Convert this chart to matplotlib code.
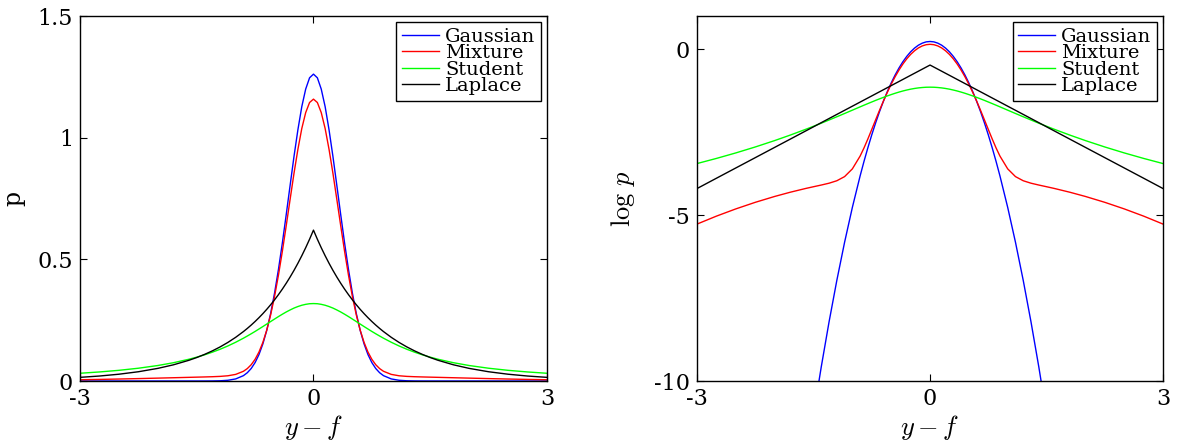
import numpy as np
import matplotlib
matplotlib.use("Agg")
import matplotlib.pyplot as plt

plt.rcParams['font.family'] = ['DejaVu Serif']
plt.rcParams['mathtext.fontset'] = 'cm'

# residual y - f
x = [-3.0, -2.75, -2.5, -2.25, -2.0, -1.8, -1.6, -1.5, -1.4, -1.3, -1.2, -1.1, -1.0,
     -0.9, -0.85, -0.8, -0.75, -0.7, -0.65, -0.6, -0.55, -0.5, -0.45, -0.4, -0.35,
     -0.3, -0.25, -0.2, -0.15, -0.1, -0.05, 0.0,
     0.05, 0.1, 0.15, 0.2, 0.25, 0.3, 0.35, 0.4, 0.45, 0.5, 0.55, 0.6, 0.65, 0.7,
     0.75, 0.8, 0.85, 0.9, 1.0, 1.1, 1.2, 1.3, 1.4, 1.5, 1.6, 1.8, 2.0, 2.25, 2.5,
     2.75, 3.0]

# log densities
logp_gauss = [-44.768, -37.580, -31.018, -25.080, -19.768, -15.968, -12.568, -11.018,
              -9.568, -8.218, -6.968, -5.818, -4.768, -3.818, -3.380, -2.968, -2.580,
              -2.218, -1.880, -1.568, -1.280, -1.018, -0.780, -0.568, -0.380, -0.218,
              -0.080, 0.032, 0.120, 0.182, 0.220, 0.232,
              0.220, 0.182, 0.120, 0.032, -0.080, -0.218, -0.380, -0.568, -0.780,
              -1.018, -1.280, -1.568, -1.880, -2.218, -2.580, -2.968, -3.380, -3.818,
              -4.768, -5.818, -6.968, -8.218, -9.568, -11.018, -12.568, -15.968,
              -19.768, -25.080, -31.018, -37.580, -44.768]

logp_mix = [-5.271, -5.031, -4.813, -4.615, -4.438, -4.311, -4.197, -4.145, -4.094,
            -4.039, -3.965, -3.840, -3.607, -3.221, -2.975, -2.703, -2.417, -2.127,
            -1.840, -1.564, -1.302, -1.057, -0.833, -0.630, -0.449, -0.292, -0.158,
            -0.049, 0.037, 0.098, 0.135, 0.147,
            0.135, 0.098, 0.037, -0.049, -0.158, -0.292, -0.449, -0.630, -0.833,
            -1.057, -1.302, -1.564, -1.840, -2.127, -2.417, -2.703, -2.975, -3.221,
            -3.607, -3.840, -3.965, -4.039, -4.094, -4.145, -4.197, -4.311, -4.438,
            -4.615, -4.813, -5.031, -5.271]

logp_student = [-3.447, -3.292, -3.126, -2.947, -2.754, -2.589, -2.414, -2.323, -2.230,
                -2.134, -2.037, -1.938, -1.838, -1.738, -1.688, -1.639, -1.591, -1.543,
                -1.497, -1.452, -1.409, -1.368, -1.329, -1.293, -1.260, -1.231, -1.205,
                -1.184, -1.167, -1.155, -1.147, -1.145,
                -1.147, -1.155, -1.167, -1.184, -1.205, -1.231, -1.260, -1.293, -1.329,
                -1.368, -1.409, -1.452, -1.497, -1.543, -1.591, -1.639, -1.688, -1.738,
                -1.838, -1.938, -2.037, -2.134, -2.230, -2.323, -2.414, -2.589, -2.754,
                -2.947, -3.126, -3.292, -3.447]

logp_laplace = [-4.200, -3.889, -3.579, -3.269, -2.959, -2.711, -2.463, -2.339, -2.214,
                -2.090, -1.966, -1.842, -1.718, -1.594, -1.532, -1.470, -1.408, -1.346,
                -1.284, -1.222, -1.160, -1.098, -1.036, -0.974, -0.912, -0.850, -0.788,
                -0.726, -0.664, -0.602, -0.540, -0.478,
                -0.540, -0.602, -0.664, -0.726, -0.788, -0.850, -0.912, -0.974, -1.036,
                -1.098, -1.160, -1.222, -1.284, -1.346, -1.408, -1.470, -1.532, -1.594,
                -1.718, -1.842, -1.966, -2.090, -2.214, -2.339, -2.463, -2.711, -2.959,
                -3.269, -3.579, -3.889, -4.200]

labels = ['Gaussian', 'Mixture', 'Student', 'Laplace']
colors = ['#0000ff', '#ff0000', '#00ff00', '#000000']
series = [logp_gauss, logp_mix, logp_student, logp_laplace]

fig = plt.figure(figsize=(11.78, 4.42), dpi=100)
ax1 = fig.add_axes([0.0679, 0.138, 0.3964, 0.8258])
ax2 = fig.add_axes([0.5917, 0.138, 0.3956, 0.8258])

for lp, c, lab in zip(series, colors, labels):
    ax1.plot(x, np.exp(lp), color=c, lw=1.0, label=lab)
    ax2.plot(x, lp, color=c, lw=1.0, label=lab)

ax1.set_xlim(-3, 3)
ax1.set_ylim(0, 1.5)
ax1.set_xticks([-3, 0, 3])
ax1.set_xticklabels(['-3', '0', '3'])
ax1.set_yticks([0, 0.5, 1, 1.5])
ax1.set_yticklabels(['0', '0.5', '1', '1.5'])
ax1.set_ylabel('p', fontsize=17, labelpad=9)

ax2.set_xlim(-3, 3)
ax2.set_ylim(-10, 1)
ax2.set_xticks([-3, 0, 3])
ax2.set_xticklabels(['-3', '0', '3'])
ax2.set_yticks([-10, -5, 0])
ax2.set_yticklabels(['-10', '-5', '0'])
ax2.set_ylabel(r'$\log\,p$', fontsize=19, labelpad=12)

for ax in (ax1, ax2):
    ax.set_xlabel(r'$y - f$', fontsize=19, labelpad=2)
    ax.tick_params(direction='in', top=True, right=True, length=5, width=0.8,
                   labelsize=16, pad=5)
    for s in ax.spines.values():
        s.set_linewidth(1.0)
    leg = ax.legend(loc='upper right', fontsize=14, handlelength=1.9,
                    handletextpad=0.3, labelspacing=-0.08, borderpad=0.3,
                    borderaxespad=0.3, fancybox=False, framealpha=1,
                    edgecolor='black')
    leg.get_frame().set_linewidth(1.0)

fig.savefig('out.png', dpi=100)
